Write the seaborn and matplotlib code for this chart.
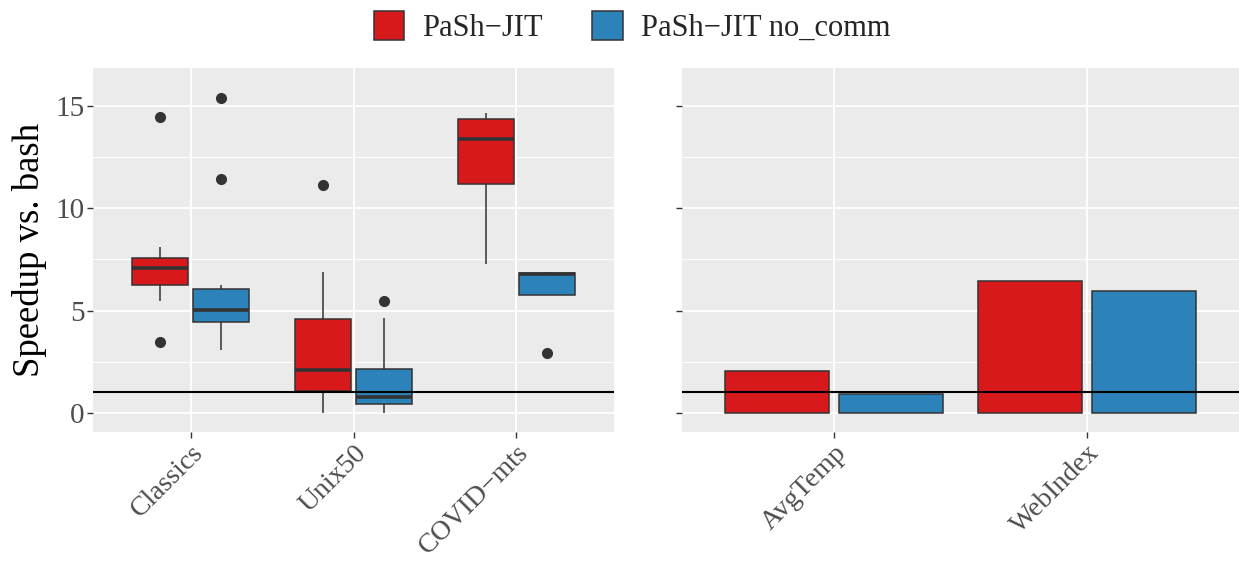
import pandas as pd
import seaborn as sns
import matplotlib.pyplot as plt
from matplotlib.patches import Patch

# === style ===
sns.set_theme(style="darkgrid", rc={
    "axes.facecolor": "#EBEBEB",
    "grid.color": "white",
})
plt.rcParams['font.family'] = ['Liberation Serif', 'DejaVu Serif']
plt.rcParams['axes.unicode_minus'] = False

# === data ===
systems = ["PaSh\u2212JIT", "PaSh\u2212JIT no_comm"]
colors = ["#D7191C", "#2B83BA"]

box_benches = ["Classics", "Unix50", "COVID\u2212mts"]
# per-script speedups, chosen to reproduce the boxes
classics_jit = [3.48, 5.47, 6.24, 6.70, 7.08, 7.30, 7.59, 8.09, 14.44]
classics_nocomm = [3.08, 3.90, 4.20, 4.44, 4.70, 4.90, 5.02, 5.30, 5.70, 6.04, 6.27, 11.45, 15.40]
unix50_jit = [0.0, 0.60, 1.09, 1.50, 2.12, 3.20, 4.57, 6.87, 11.12]
unix50_nocomm = [0.0, 0.20, 0.42, 0.60, 0.80, 1.50, 2.13, 4.62, 5.47]
covid_jit = [7.30, 11.17, 13.38, 14.38, 14.67]
covid_nocomm = [2.95, 5.77, 6.79, 6.86, 6.88]

bar_benches = ["AvgTemp", "WebIndex"]
bar_jit = [2.03, 6.47]
bar_nocomm = [0.94, 5.98]

# === long tables ===
rows = []
groups = [
    (box_benches[0], systems[0], classics_jit),
    (box_benches[0], systems[1], classics_nocomm),
    (box_benches[1], systems[0], unix50_jit),
    (box_benches[1], systems[1], unix50_nocomm),
    (box_benches[2], systems[0], covid_jit),
    (box_benches[2], systems[1], covid_nocomm),
]
for bench, system, vals in groups:
    for v in vals:
        rows.append({"Benchmark": bench, "System": system, "Speedup": v})
box_df = pd.DataFrame(rows)

bar_df = pd.DataFrame({
    "Benchmark": bar_benches * 2,
    "System": [systems[0]] * 2 + [systems[1]] * 2,
    "Speedup": bar_jit + bar_nocomm,
})

W, H = 1239, 562
fig = plt.figure(figsize=(W / 100, H / 100), dpi=100)
ax1 = fig.add_axes([93 / W, (H - 432) / H, 521 / W, 364 / H])
ax2 = fig.add_axes([682 / W, (H - 432) / H, 557 / W, 364 / H])

edge = "#333333"
sns.boxplot(
    data=box_df, x="Benchmark", y="Speedup", hue="System",
    order=box_benches, hue_order=systems, palette=colors,
    saturation=1, width=0.75, gap=0.08, linecolor=edge, linewidth=1.1,
    showcaps=False, legend=False, ax=ax1,
    medianprops=dict(linewidth=2.6, color=edge),
    flierprops=dict(marker="o", markersize=7, markerfacecolor=edge,
                    markeredgecolor=edge),
)
sns.barplot(
    data=bar_df, x="Benchmark", y="Speedup", hue="System",
    order=bar_benches, hue_order=systems, palette=colors,
    saturation=1, width=0.9, gap=0.09, errorbar=None,
    edgecolor=edge, linewidth=1.1, legend=False, ax=ax2,
)

for ax, n in [(ax1, 3), (ax2, 2)]:
    ax.set_xlim(-0.6, n - 0.4)
    ax.set_ylim(-0.93, 16.85)
    ax.axhline(1, color="black", lw=1.5, zorder=5)
    ax.set_yticks([0, 5, 10, 15])
    ax.set_yticks([2.5, 7.5, 12.5], minor=True)
    ax.grid(which="major", color="white", lw=1.3)
    ax.grid(which="minor", axis="y", color="white", lw=0.7)
    ax.set_axisbelow(True)
    for s in ax.spines.values():
        s.set_visible(False)
    ax.tick_params(axis="both", which="major", length=4, width=1,
                   color=edge, labelcolor="#4D4D4D", labelsize=21,
                   left=True, bottom=True, pad=2)
    ax.tick_params(axis="x", which="major", labelsize=20)
    ax.tick_params(axis="both", which="minor", length=0)
    ax.set_xlabel("")
    for lab in ax.get_xticklabels():
        lab.set_rotation(45)
        lab.set_ha("right")
        lab.set_rotation_mode("anchor")

ax1.set_ylabel("Speedup vs. bash", fontsize=26.5, color="black", labelpad=6)
ax2.set_ylabel("")
ax2.set_yticklabels([])

handles = [Patch(facecolor=c, edgecolor=edge, lw=1.1) for c in colors]
fig.legend(handles, systems, loc="center", bbox_to_anchor=(632 / W, 1 - 27 / H),
           ncol=2, frameon=False, fontsize=22, handlelength=1.0,
           handleheight=1.1, handletextpad=0.6, columnspacing=1.6)

plt.savefig("out.png", dpi=100)
